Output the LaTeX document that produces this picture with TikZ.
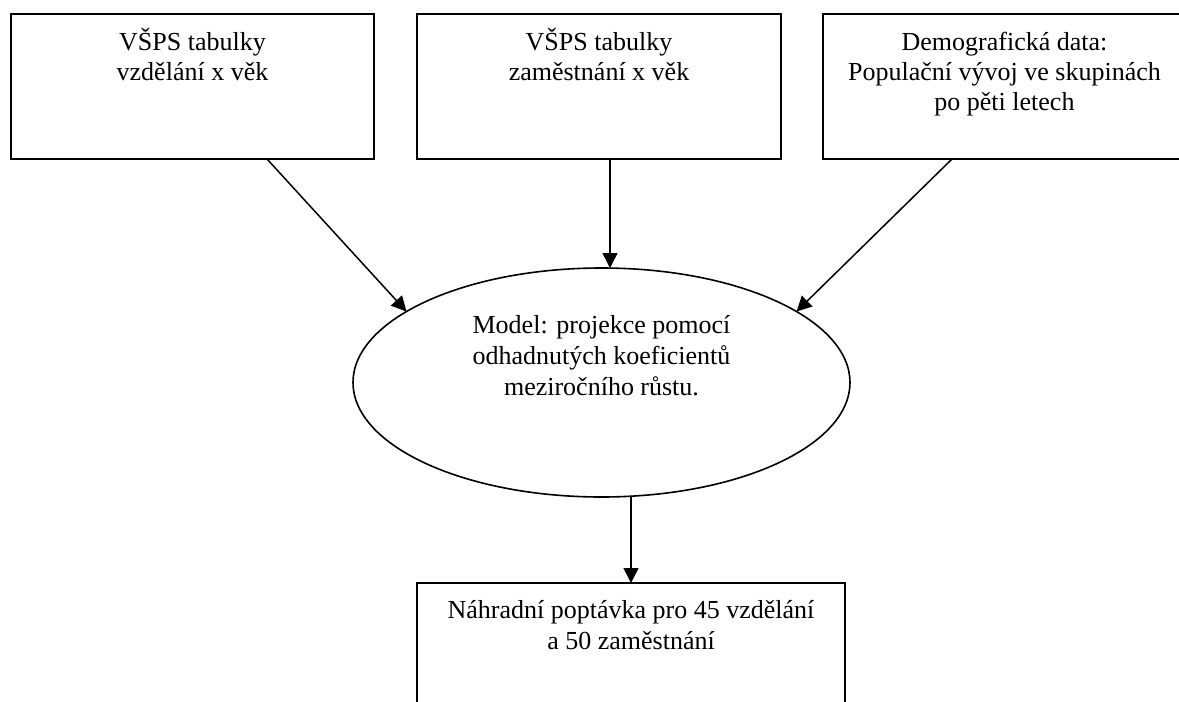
\documentclass[tikz,border=0pt]{standalone}
\usepackage{fontspec}
\setmainfont{Liberation Serif}
\usetikzlibrary{arrows.meta,shapes.geometric,calc}
\newcommand{\mylines}[2][360pt]{\parbox[t]{#1}{\centering\fontsize{26}{30}\selectfont #2}}
\newcommand{\mylinesb}[2][440pt]{\parbox[t]{#1}{\centering\fontsize{26}{31}\selectfont #2}}
\begin{document}
\begin{tikzpicture}[x=1pt,y=-1pt,
  boxshape/.style={draw, line width=1.6pt, rectangle, inner sep=0pt, outer sep=0pt, anchor=north west},
  ellshape/.style={draw, line width=1.6pt, ellipse, inner sep=0pt, outer sep=0pt},
  lbl/.style={anchor=base, inner sep=0pt},
  arr/.style={line width=1.5pt, -{Triangle[length=15pt,width=15pt]}}]
\useasboundingbox (0,0) rectangle (1179,702);
\clip (0,0) rectangle (1179,702);
\fill[white] (0,0) rectangle (1179,702);
% boxes
\node[boxshape, minimum width=363pt, minimum height=145pt] (b1) at (11,14) {};
\node[boxshape, minimum width=364pt, minimum height=145pt] (b2) at (417,14) {};
\node[boxshape, minimum width=363pt, minimum height=145pt] (b3) at (823,14) {};
\node[ellshape, minimum width=497pt, minimum height=229pt] (model) at (601.5,382.5) {};
\node[boxshape, minimum width=428pt, minimum height=160pt] (out) at (417,583) {};
% texts
\node[lbl] (t1) at ($(b1.north)+(0,36)$) {\mylines{VŠPS tabulky\\vzdělání x věk}};
\node[lbl] (t2) at ($(b2.north)+(0,36)$) {\mylines{VŠPS tabulky\\zaměstnání x věk}};
\node[lbl] (t3) at ($(b3.north)+(0,36)$) {\mylines{Demografická data:\\Populační vývoj ve skupinách\\po pěti letech}};
\node[lbl] (tm) at ($(model.center)+(0,-49.5)$) {\mylinesb{Model: projekce pomocí\\odhadnutých koeficientů\\meziročního růstu.}};
\node[lbl] (to) at ($(out.north)+(0,35)$) {\mylinesb{Náhradní poptávka pro 45 vzdělání\\a 50 zaměstnání}};
% connectors
\draw[arr] ($(b1.south)+(74.5,0)$) -- (model.160);
\draw[arr] ($(b2.south)+(11,0)$) coordinate (a2) -- (a2 |- model.north);
\draw[arr] ($(b3.south)+(-52.5,0)$) -- (model.20.5);
\draw[arr] (out.north |- model.south) -- (out.north);
\end{tikzpicture}
\end{document}
